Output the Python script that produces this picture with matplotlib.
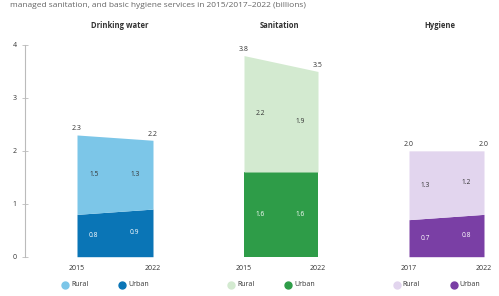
import matplotlib
matplotlib.use("Agg")
import matplotlib.pyplot as plt
import numpy as np

plt.rcParams['font.family'] = ['Open Sans', 'DejaVu Sans']

# data (billions of people)
titles = ["Drinking water", "Sanitation", "Hygiene"]
years_water = [2015, 2022]
years_san = [2015, 2022]
years_hyg = [2017, 2022]
water_urban = [0.8, 0.9]
water_rural = [1.5, 1.3]
san_urban = [1.6, 1.6]
san_rural = [2.2, 1.9]
hyg_urban = [0.7, 0.8]
hyg_rural = [1.3, 1.2]
yticks = [0, 1, 2, 3, 4]

colors = [("#7cc6e8", "#0a75b6"), ("#d3ead0", "#2e9c48"), ("#e2d5ee", "#7a3fa5")]
panels = [(years_water, water_urban, water_rural),
          (years_san, san_urban, san_rural),
          (years_hyg, hyg_urban, hyg_rural)]

W, H = 499, 296
fig = plt.figure(figsize=(W / 100, H / 100), dpi=100)

y0, y4 = 256.7, 45.0
# area pixel extents for each panel
area_px = [(77, 153), (244, 318), (409, 484)]
title_x = [120, 280, 440]
txt = "#333333"

fig.text(10 / W, 1 - 7 / H, "managed sanitation, and basic hygiene services in 2015/2017\u20132022 (billions)",
         fontsize=6, color="#666666", va="baseline", ha="left")

for i, (yrs, urb, rur) in enumerate(panels):
    xl, xr = area_px[i]
    if i == 0:
        left_px = 25
    else:
        left_px = xl
    ax = fig.add_axes([left_px / W, (H - y0) / H, (xr - left_px) / W, (y0 - y4) / H])
    unit = (xr - xl) / (yrs[1] - yrs[0])
    ax.set_xlim(yrs[0] - (xl - left_px) / unit, yrs[1])
    ax.set_ylim(0, 4)
    urb = np.array(urb)
    tot = urb + np.array(rur)
    light, dark = colors[i]
    ax.fill_between(yrs, 0, urb, color=dark, lw=0)
    ax.fill_between(yrs, urb, tot, color=light, lw=0)
    for sp in ax.spines.values():
        sp.set_visible(False)
    ax.set_xticks([])
    if i == 0:
        ax.spines['left'].set_visible(True)
        ax.spines['left'].set_color("#bbbbbb")
        ax.spines['left'].set_linewidth(0.8)
        ax.set_yticks(yticks)
        ax.tick_params(axis='y', direction='inout', length=4, width=0.6, colors="#bbbbbb",
                       labelcolor=txt, labelsize=5, pad=4)
    else:
        ax.set_yticks([])
    ax.patch.set_alpha(0)
    span = yrs[1] - yrs[0]
    for j, yr in enumerate(yrs):
        xin = yr + (0.22 if j == 0 else -0.24) * span
        ax.text(xin, urb[j] / 2, f"{urb[j]:.1f}", fontsize=4.8, color="white",
                ha="center", va="center")
        ax.text(xin, urb[j] + rur[j] / 2, f"{rur[j]:.1f}", fontsize=4.8, color=txt,
                ha="center", va="center")
        ax.text(yr, tot[j] + 0.05, f"{tot[j]:.1f}", fontsize=5, color=txt,
                ha="center", va="bottom", clip_on=False)
        ax.text(yr, -0.15, str(yr), fontsize=5, color=txt, ha="center", va="top", clip_on=False)
    fig.text(title_x[i] / W, 1 - 26 / H, titles[i], fontsize=5.5, fontweight="bold",
             color=txt, ha="center", va="center")
    # legend
    lx = (xl + xr) / 2
    ly = 1 - 285 / H
    fig.lines.append(plt.Line2D([(lx - 50) / W], [ly], marker="o", ms=5, color=light,
                                transform=fig.transFigure, ls=""))
    fig.text((lx - 44) / W, ly, "Rural", fontsize=5, color=txt, va="center", ha="left")
    fig.lines.append(plt.Line2D([(lx + 7) / W], [ly], marker="o", ms=5, color=dark,
                                transform=fig.transFigure, ls=""))
    fig.text((lx + 13) / W, ly, "Urban", fontsize=5, color=txt, va="center", ha="left")

fig.savefig("out.png", dpi=100)
